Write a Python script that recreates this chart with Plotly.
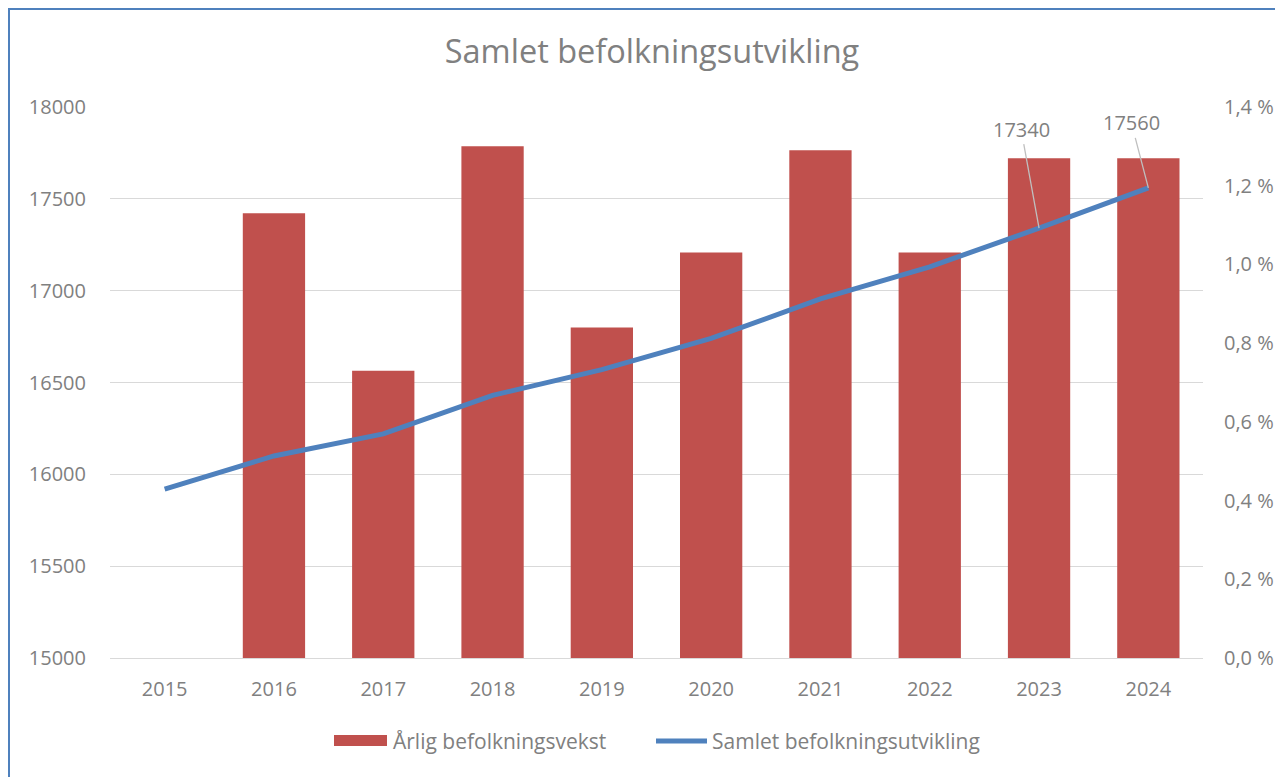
import plotly.graph_objects as go

years = ["2015", "2016", "2017", "2018", "2019", "2020", "2021", "2022", "2023", "2024"]
total_population = [15920, 16100, 16220, 16430, 16570, 16740, 16955, 17130, 17340, 17560]
annual_growth_pct = [None, 1.13, 0.73, 1.30, 0.84, 1.03, 1.29, 1.03, 1.27, 1.27]
left_ticks = [15000, 15500, 16000, 16500, 17000, 17500, 18000]
right_ticks = [0.0, 0.2, 0.4, 0.6, 0.8, 1.0, 1.2, 1.4]
right_ticktext = ["0,0 %", "0,2 %", "0,4 %", "0,6 %", "0,8 %", "1,0 %", "1,2 %", "1,4 %"]
labelled_years = ["2023", "2024"]
bar_name = "Årlig befolkningsvekst"
line_name = "Samlet befolkningsutvikling"

FONT = "Open Sans"
GRAY = "#808080"
RED = "#C0504D"
BLUE = "#4F81BD"

# page has an 8px body margin; figure sized to fit the window
W, H = 1275, 769
L, R, T, B = 102, 80, 99, 119
PW, PH = W - L - R, H - T - B


def px(x_screen):
    return (x_screen - 8 - L) / PW


def py(y_screen):
    return (T + PH - (y_screen - 8)) / PH


fig = go.Figure()
fig.add_trace(go.Bar(
    x=years, y=annual_growth_pct, name=bar_name,
    marker=dict(color=RED, line=dict(width=0)), yaxis="y", showlegend=False,
))
fig.add_trace(go.Scatter(
    x=years, y=total_population, name=line_name,
    mode="lines", line=dict(color=BLUE, width=5), yaxis="y2", showlegend=False,
))

ann = []
offsets = {"2023": (-18, -99), "2024": (-17, -65)}
for yr in labelled_years:
    i = years.index(yr)
    ax, ay = offsets[yr]
    ann.append(dict(
        x=i, y=total_population[i], xref="x", yref="y2",
        text=str(total_population[i]), showarrow=True, arrowhead=0,
        arrowwidth=1.3, arrowcolor="#BFBFBF", ax=ax, ay=ay,
        font=dict(family=FONT, size=20, color=GRAY), standoff=0,
    ))

# custom legend (wide swatches like the original)
ann.append(dict(x=px(391), y=py(741), xref="paper", yref="paper", text=bar_name,
                showarrow=False, xanchor="left", yanchor="middle",
                font=dict(family=FONT, size=21, color=GRAY)))
ann.append(dict(x=px(710), y=py(741), xref="paper", yref="paper", text=line_name,
                showarrow=False, xanchor="left", yanchor="middle",
                font=dict(family=FONT, size=21, color=GRAY)))

shapes = [
    dict(type="rect", xref="paper", yref="paper",
         x0=(1 - L) / PW, x1=1.3, y0=-0.5, y1=(T + PH - 1) / PH,
         line=dict(color=BLUE, width=2), fillcolor="rgba(0,0,0,0)", layer="below"),
    dict(type="rect", xref="paper", yref="paper",
         x0=px(334), x1=px(387), y0=py(746), y1=py(735),
         line=dict(width=0), fillcolor=RED),
    dict(type="line", xref="paper", yref="paper",
         x0=px(656), x1=px(707), y0=py(741), y1=py(741),
         line=dict(color=BLUE, width=5)),
]

fig.update_layout(
    width=W, height=H, autosize=False,
    paper_bgcolor="white", plot_bgcolor="white",
    margin=dict(l=L, r=R, t=T, b=B, autoexpand=False),
    font=dict(family=FONT, color=GRAY, size=20),
    title=dict(text=line_name, x=px(652), xref="paper", xanchor="center",
               y=1 - 44 / H, yref="container", yanchor="middle",
               font=dict(family=FONT, size=32.5, color=GRAY)),
    bargap=0.43,
    showlegend=False,
    xaxis=dict(type="category", range=[-0.5, 9.5], showgrid=False, showline=True,
               linecolor="#D9D9D9", linewidth=1, ticks="outside", ticklen=13,
               tickcolor="rgba(0,0,0,0)",
               tickfont=dict(family=FONT, size=20, color=GRAY)),
    yaxis=dict(side="right", range=[0, 1.4], tickvals=right_ticks, ticktext=right_ticktext,
               showgrid=False, zeroline=False, showline=False,
               ticks="outside", ticklen=16, tickcolor="rgba(0,0,0,0)",
               tickfont=dict(family=FONT, size=20, color=GRAY)),
    yaxis2=dict(overlaying="y", side="left", range=[15000, 18000], tickvals=left_ticks,
                showgrid=True, gridcolor="#D9D9D9", gridwidth=1, zeroline=False,
                ticks="outside", ticklen=19, tickcolor="rgba(0,0,0,0)",
                tickformat="d",
                tickfont=dict(family=FONT, size=20, color=GRAY)),
    annotations=ann,
    shapes=shapes,
)

fig.write_html("out.html")
